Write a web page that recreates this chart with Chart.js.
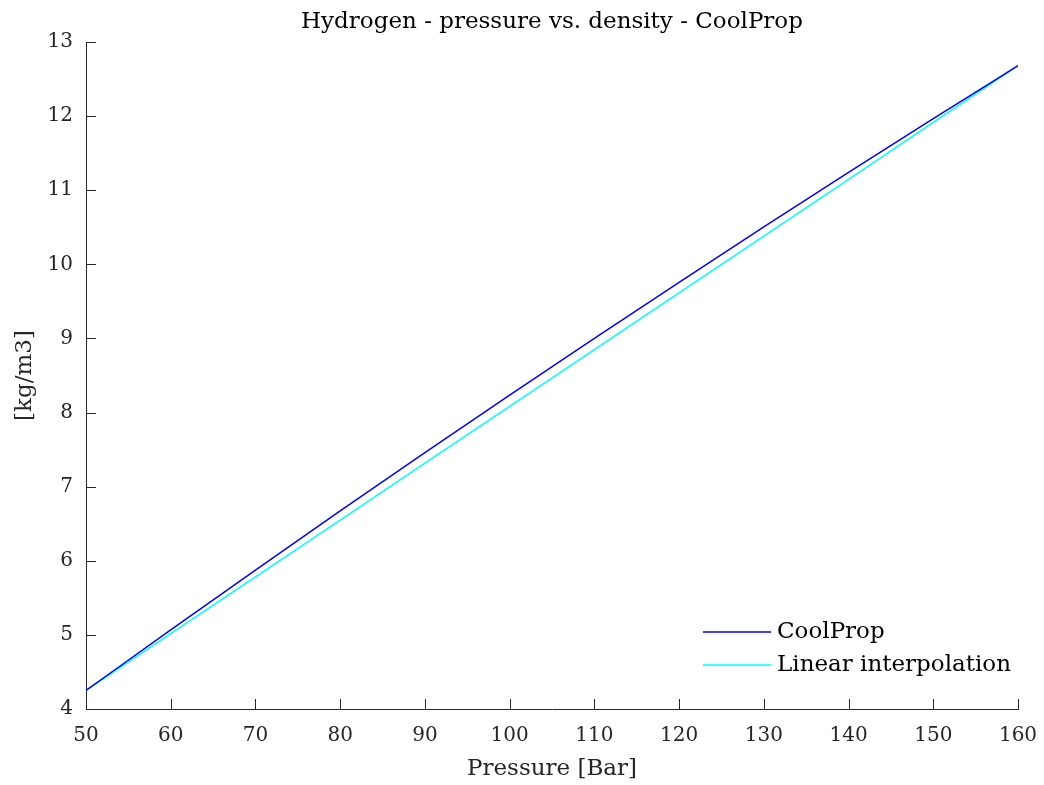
<!DOCTYPE html>
<html>
<head>
<meta charset="utf-8">
<title>Hydrogen - pressure vs. density</title>
<script src="https://cdn.jsdelivr.net/npm/chart.js@4.4.1/dist/chart.umd.min.js"></script>
<style>
    html, body { margin: 0; padding: 0; background: #fff; }
    #wrap { width: 1044px; height: 785px; }
</style>
</head>
<body>
<div id="wrap"><canvas id="densityChart" width="1044" height="785"></canvas></div>
<script>
// pressure in bar, density in kg/m3
const pressure = [50, 60, 70, 80, 90, 100, 110, 120, 130, 140, 150, 160];
const coolPropDensity = [4.25, 5.067, 5.875, 6.672, 7.459, 8.236, 9.002, 9.758, 10.504, 11.240, 11.965, 12.68];
const linearDensity = [4.25, 5.016, 5.783, 6.549, 7.316, 8.082, 8.848, 9.615, 10.381, 11.148, 11.914, 12.68];
const seriesNames = ['CoolProp', 'Linear interpolation'];
const chartTitle = 'Hydrogen - pressure vs. density - CoolProp';

const serif = '"DejaVu Serif", "Liberation Serif", serif';
const axisColor = '#262626';
const textSize = 23;
const tickSize = 20;

const toPoints = (ys) => pressure.map((p, i) => ({ x: p, y: ys[i] }));

// title over the axes, inward ticks and a legend inside the axes, MATLAB style
const matlabAxes = {
    id: 'matlabAxes',
    afterDraw(chart) {
        const ctx = chart.ctx;
        const area = chart.chartArea;
        const xs = chart.scales.x;
        const ys = chart.scales.y;
        ctx.save();

        ctx.font = textSize + 'px ' + serif;
        ctx.fillStyle = '#000';
        ctx.textAlign = 'center';
        ctx.textBaseline = 'middle';
        ctx.fillText(chartTitle, (area.left + area.right) / 2, 22);

        ctx.strokeStyle = axisColor;
        ctx.lineWidth = 1;
        ctx.beginPath();
        xs.ticks.forEach(t => {
            const px = Math.round(xs.getPixelForValue(t.value)) + 0.5;
            ctx.moveTo(px, area.bottom);
            ctx.lineTo(px, area.bottom - 10);
        });
        ys.ticks.forEach(t => {
            const py = Math.round(ys.getPixelForValue(t.value)) + 0.5;
            ctx.moveTo(area.left, py);
            ctx.lineTo(area.left + 10, py);
        });
        ctx.stroke();

        // legend
        ctx.textAlign = 'left';
        ctx.lineWidth = 1.5;
        chart.data.datasets.forEach((ds, i) => {
            const y = 632 + i * 33;
            ctx.strokeStyle = ds.borderColor;
            ctx.beginPath();
            ctx.moveTo(703, y);
            ctx.lineTo(771, y);
            ctx.stroke();
            ctx.fillText(ds.label, 777, y);
        });
        ctx.restore();
    }
};

new Chart(document.querySelector('#densityChart'), {
    type: 'line',
    data: {
        datasets: [
            {
                label: seriesNames[0],
                data: toPoints(coolPropDensity),
                borderColor: '#0000ff',
                borderWidth: 1.5,
                pointRadius: 0,
                cubicInterpolationMode: 'monotone'
            },
            {
                label: seriesNames[1],
                data: toPoints(linearDensity),
                borderColor: '#00ffff',
                borderWidth: 1.5,
                pointRadius: 0
            }
        ]
    },
    options: {
        responsive: false,
        animation: false,
        layout: { padding: { left: 0, right: 26, top: 42, bottom: 0 } },
        plugins: {
            legend: { display: false },
            tooltip: { enabled: false },
            title: { display: false }
        },
        scales: {
            x: {
                type: 'linear',
                min: 50,
                max: 160,
                ticks: { stepSize: 10, color: axisColor, font: { family: serif, size: tickSize }, padding: 15, maxRotation: 0 },
                grid: { display: false, drawTicks: false },
                border: { display: true, color: axisColor, width: 1 },
                title: {
                    display: true,
                    text: 'Pressure [Bar]',
                    color: axisColor,
                    font: { family: serif, size: textSize },
                    padding: { top: 0, bottom: 2 }
                },
                afterFit(scale) {
                    scale.height = 76;
                    scale.paddingLeft = 0;
                    scale.paddingRight = 0;
                }
            },
            y: {
                type: 'linear',
                min: 4,
                max: 13,
                ticks: { stepSize: 1, color: axisColor, font: { family: serif, size: tickSize }, padding: 13 },
                grid: { display: false, drawTicks: false },
                border: { display: true, color: axisColor, width: 1 },
                title: {
                    display: true,
                    text: '[kg/m3]',
                    color: axisColor,
                    font: { family: serif, size: textSize },
                    padding: { top: 11, bottom: 0 }
                },
                afterFit(scale) { scale.width = 86; }
            }
        }
    },
    plugins: [matlabAxes]
});
</script>
</body>
</html>
